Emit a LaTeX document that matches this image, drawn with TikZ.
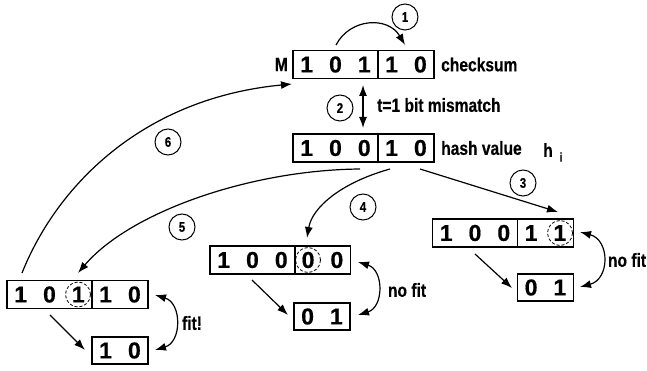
\documentclass[tikz,border=0pt]{standalone}
\usepackage{fontspec}
\setmainfont{Liberation Sans}
\newfontfamily\digitfont{Liberation Sans}[UprightFont={* Bold}, FakeBold=0.6]
\newfontfamily\narrowfont{Liberation Sans}[UprightFont={* Bold}, FakeStretch=0.82, FakeBold=0.4]
\usetikzlibrary{arrows.meta}
\newcommand\gap{\hspace{16pt}}
\tikzset{
  part/.style={draw, line width=1.6pt, minimum height=28pt, inner sep=0pt,
    font=\digitfont\fontsize{23}{23}\selectfont},
  lbl/.style={font=\narrowfont\fontsize{19}{19}\selectfont, inner sep=0pt},
  num/.style={draw, circle, line width=1pt, minimum size=26pt, inner sep=0pt,
    font=\narrowfont\fontsize{14}{14}\selectfont},
  arr/.style={-{Latex[length=11pt,width=8pt]}, line width=1.2pt},
  darr/.style={{Latex[length=11pt,width=8pt]}-{Latex[length=11pt,width=8pt]}, line width=1.2pt},
  dcirc/.style={draw, circle, line width=0.8pt, minimum size=25pt, inner sep=0pt, dash pattern=on 3pt off 2pt}
}
\begin{document}
\begin{tikzpicture}[x=1pt,y=-1pt]
\useasboundingbox (0,0) rectangle (647,371);
% box A (M / checksum)
\node[part, minimum width=85pt] (Al) at (335.5,64.5) {1\gap 0\gap 1};
\node[part, minimum width=56pt] (Ar) at (406,64.5) {1\gap 0};
\node[lbl, anchor=east] (M) at (288,64.5) {M};
\node[lbl, anchor=west] (cs) at (441,64.5) {checksum};
% box B (hash)
\node[part, minimum width=85pt] (Bl) at (335.5,148) {1\gap 0\gap 0};
\node[part, minimum width=56pt] (Br) at (406,148) {1\gap 0};
\node[lbl, anchor=west] (hv) at (441,148) {hash value};
\node[lbl] (h) at (548,150) {h};
\node[font=\narrowfont\fontsize{13}{13}\selectfont, inner sep=0pt] (hi) at (561,157) {i};
\node[lbl, anchor=west] (mm) at (377,105) {t=1 bit mismatch};
% box C
\node[part, minimum width=85pt] (Cl) at (475,233) {1\gap 0\gap 0};
\node[part, minimum width=56pt] (Cr) at (545.5,233) {1\gap 1};
\node[part, minimum width=56pt, minimum height=27pt] (Cs) at (545.5,287.5) {0\gap 1};
\node[dcirc] (Cc) at (560,233) {};
\node[lbl] (nf1) at (627,260) {no fit};
% box D
\node[part, minimum width=85pt] (Dl) at (252.5,260) {1\gap 0\gap 0};
\node[part, minimum width=56pt] (Dr) at (322.5,260) {0\gap 0};
\node[part, minimum width=56pt, minimum height=27pt] (Ds) at (322,316.5) {0\gap 1};
\node[dcirc] (Dc) at (308,260) {};
\node[lbl] (nf2) at (407,290) {no fit};
% box E
\node[part, minimum width=85pt] (El) at (49.5,294.5) {1\gap 0\gap 1};
\node[part, minimum width=56pt] (Er) at (120,294.5) {1\gap 0};
\node[part, minimum width=56pt, minimum height=27pt] (Es) at (120,350.5) {1\gap 0};
\node[dcirc] (Ec) at (78,294.5) {};
\node[lbl] (fit) at (192,323) {fit!};
% numbered circles
\node[num] (n1) at (405,17) {1};
\node[num] (n2) at (340,108) {2};
\node[num] (n3) at (523,183) {3};
\node[num] (n4) at (363,207) {4};
\node[num] (n5) at (182,227) {5};
\node[num] (n6) at (168,142) {6};
% coordinates
\coordinate (a1s) at (336,45);
\coordinate (a1e) at (405,45);
\coordinate (a2s) at (363,85);
\coordinate (a2e) at (363,128);
\coordinate (h3) at (420,169);
\coordinate (h4) at (390,169);
\coordinate (h5) at (360,169);
\coordinate (c3) at (558,212);
\coordinate (d4) at (307,238);
\coordinate (e5) at (78,273);
\coordinate (e6) at (22,273);
\coordinate (m6) at (292,84);
\coordinate (cx1) at (475,254);
\coordinate (cx2) at (512,288);
\coordinate (dx1) at (252,280);
\coordinate (dx2) at (288,315);
\coordinate (ex1) at (50,315);
\coordinate (ex2) at (85,350);
\coordinate (cf1) at (580,232);
\coordinate (cf2) at (580,287);
\coordinate (df1) at (358,262);
\coordinate (df2) at (358,315);
\coordinate (ef1) at (155,295);
\coordinate (ef2) at (155,350);
% connectors
\draw[arr] (a1s) .. controls (350,18) and (388,16) .. (a1e);
\draw[darr] (a2s) -- (a2e);
\draw[arr] (h3) -- (c3);
\draw[arr] (h4) .. controls (340,183) and (312,208) .. (d4);
\draw[arr] (h5) .. controls (250,170) and (130,212) .. (e5);
\draw[arr] (e6) .. controls (58,183) and (145,98) .. (m6);
\draw[arr] (cx1) -- (cx2);
\draw[arr] (dx1) -- (dx2);
\draw[arr] (ex1) -- (ex2);
\draw[darr] (cf1) .. controls (610,240) and (610,279) .. (cf2);
\draw[darr] (df1) .. controls (384,270) and (384,307) .. (df2);
\draw[darr] (ef1) .. controls (182,303) and (182,342) .. (ef2);
\end{tikzpicture}
\end{document}
